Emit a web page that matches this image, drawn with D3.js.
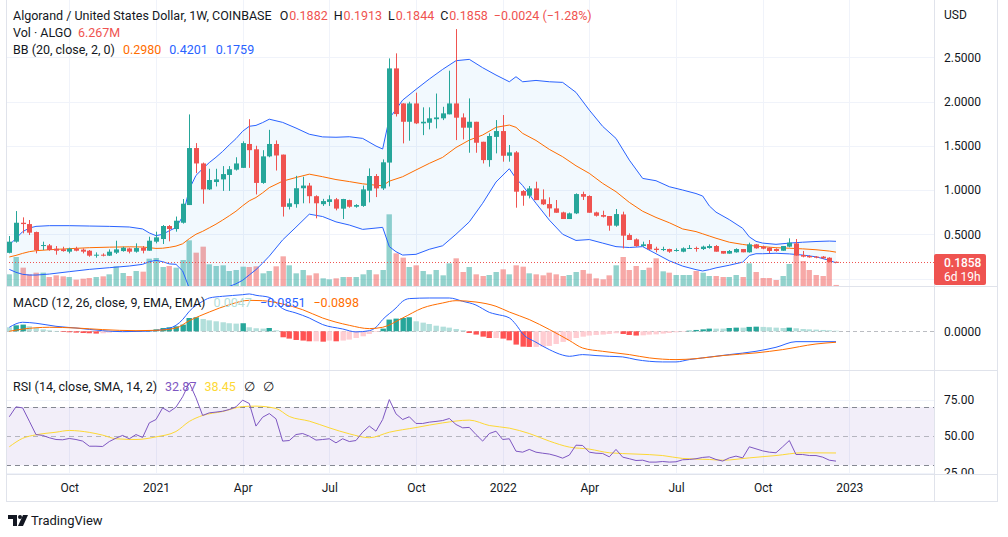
<!DOCTYPE html>
<html><head><meta charset="utf-8">
<script src="https://cdn.jsdelivr.net/npm/d3@7/dist/d3.min.js"></script>
<style>
html,body{margin:0;padding:0;background:#fff;}
svg{display:block;}
text{font-family:Roboto,"Noto Sans",sans-serif;}
</style></head>
<body>
<svg id="chart" width="1008" height="537"></svg>
<script>
// ---------------- DATA ----------------
const firstWeek = "2020-08-03";
const opens = [0.290,0.416,0.630,0.615,0.525,0.367,0.374,0.337,0.330,0.303,
0.337,0.326,0.314,0.258,0.269,0.258,0.292,0.310,0.340,0.303,
0.348,0.314,0.416,0.446,0.593,0.559,0.630,0.830,1.474,1.300,
1.007,1.090,1.120,1.170,1.230,1.250,1.520,1.460,1.080,1.380,
1.520,1.400,0.810,0.840,1.020,1.050,0.930,0.840,0.865,0.895,
0.789,0.886,0.811,0.820,0.992,1.158,1.018,1.310,2.374,1.978,
1.771,1.978,1.753,1.760,1.800,1.810,1.855,1.978,1.820,1.704,
1.771,1.545,1.338,1.600,1.666,1.387,1.425,0.988,0.936,1.018,
0.894,0.841,0.792,0.747,0.672,0.736,0.954,0.932,0.747,0.717,
0.706,0.597,0.724,0.491,0.442,0.367,0.389,0.337,0.322,0.333,
0.314,0.303,0.337,0.345,0.333,0.345,0.367,0.311,0.281,0.296,
0.333,0.296,0.386,0.360,0.348,0.333,0.314,0.360,0.397,0.265,
0.254,0.247,0.247,0.235,0.1882];
const highs = [0.480,0.762,0.691,0.661,0.530,0.416,0.390,0.367,0.359,0.348,
0.359,0.340,0.322,0.295,0.284,0.329,0.427,0.359,0.348,0.397,
0.367,0.472,0.529,0.604,0.604,0.700,0.898,1.854,1.530,1.310,
1.240,1.240,1.270,1.270,1.370,1.550,1.800,1.500,1.450,1.680,
1.560,1.400,0.904,1.160,1.150,1.080,0.940,0.900,0.940,0.910,
0.900,0.890,0.840,1.050,1.244,1.180,1.346,2.487,2.544,1.980,
1.997,2.100,1.934,1.934,2.090,1.940,2.348,2.818,1.866,2.035,
1.771,1.545,1.640,1.790,1.847,1.508,1.440,0.999,1.045,1.094,
1.007,0.917,0.887,0.755,0.745,0.962,0.981,0.940,0.755,0.766,
0.706,0.785,0.755,0.510,0.453,0.416,0.435,0.359,0.359,0.337,
0.341,0.352,0.378,0.360,0.371,0.386,0.378,0.311,0.322,0.341,
0.333,0.405,0.390,0.371,0.352,0.341,0.367,0.454,0.446,0.311,
0.262,0.254,0.254,0.240,0.1913];
const lows = [0.284,0.405,0.510,0.491,0.284,0.322,0.314,0.269,0.303,0.284,
0.307,0.284,0.246,0.235,0.250,0.254,0.277,0.303,0.284,0.292,
0.284,0.314,0.397,0.390,0.420,0.529,0.620,0.830,1.190,0.845,
1.000,1.040,0.990,0.990,1.220,1.250,1.250,0.950,1.070,1.370,
1.220,0.700,0.780,0.800,0.850,0.850,0.680,0.820,0.820,0.770,
0.672,0.800,0.800,0.810,0.860,0.920,1.000,1.040,1.830,1.527,
1.557,1.745,1.620,1.685,1.696,1.790,1.855,1.564,1.572,1.421,
1.421,1.300,1.263,1.414,1.320,1.320,0.800,0.822,0.905,0.886,
0.830,0.698,0.743,0.672,0.672,0.728,0.887,0.743,0.700,0.690,
0.540,0.585,0.340,0.435,0.359,0.359,0.322,0.295,0.310,0.290,
0.303,0.296,0.333,0.303,0.322,0.337,0.303,0.281,0.281,0.292,
0.296,0.292,0.337,0.330,0.284,0.303,0.314,0.352,0.258,0.239,
0.235,0.228,0.220,0.183,0.1844];
const closes = [0.416,0.630,0.615,0.518,0.322,0.378,0.322,0.314,0.310,0.337,
0.314,0.303,0.258,0.269,0.258,0.303,0.329,0.348,0.303,0.344,
0.314,0.427,0.465,0.593,0.559,0.653,0.845,1.474,1.300,1.007,
1.113,1.120,1.180,1.235,1.300,1.530,1.450,1.080,1.380,1.520,
1.390,0.810,0.850,1.020,1.050,0.930,0.850,0.875,0.895,0.790,
0.898,0.811,0.830,1.007,1.158,1.018,1.313,2.374,1.858,1.771,
1.978,1.753,1.771,1.810,1.820,1.866,1.978,1.817,1.704,1.771,
1.534,1.338,1.610,1.666,1.387,1.425,0.981,0.936,1.018,0.886,
0.838,0.792,0.743,0.672,0.736,0.954,0.924,0.743,0.709,0.698,
0.597,0.728,0.484,0.435,0.367,0.386,0.329,0.322,0.333,0.303,
0.322,0.341,0.345,0.337,0.360,0.367,0.303,0.281,0.311,0.333,
0.296,0.386,0.341,0.337,0.311,0.311,0.367,0.405,0.258,0.247,
0.239,0.235,0.228,0.188,0.1858];
// volume in millions of ALGO
const volumes = [70,174,110,70,80,80,54,64,58,54,
38,44,48,54,58,70,118,78,60,90,
86,164,168,114,120,110,156,274,200,236,
130,120,124,90,96,116,114,118,76,90,
118,178,124,76,96,64,76,46,40,46,
54,54,54,70,96,70,96,430,196,170,
114,124,90,70,96,64,136,166,84,114,
70,60,66,84,100,70,124,116,76,70,
64,80,70,60,66,84,96,74,46,40,
64,124,174,96,120,96,110,166,88,80,
66,66,66,90,80,60,60,54,54,66,
54,136,84,48,48,36,60,132,184,150,
96,66,60,150,6.267];

// Bollinger Bands (20, close, 2) sampled at week numbers (1-based)
const bbWeek = [1,2,3,4,5,7,10,13,16,19,21,22,23,24,25,26,27,28,29,30,31,32,33,34,35,36,37,38,39,40,42,44,46,48,50,52,54,56,57,58,59,60,62,64,66,68,70,72,74,76,77,78,80,82,84,86,88,90,92,94,96,98,100,102,104,105,106,107,109,111,112,113,114,116,118,120,122,124,125];
const bbUpper = [0.378,0.453,0.529,0.57,0.589,0.597,0.597,0.593,0.589,0.582,
0.56,0.515,0.484,0.499,0.54,0.575,0.70,1.01,1.165,1.24,
1.31,1.37,1.436,1.51,1.58,1.664,1.72,1.73,1.762,1.80,
1.764,1.70,1.63,1.60,1.596,1.602,1.583,1.497,1.463,1.81,
1.91,2.016,2.137,2.254,2.363,2.461,2.476,2.382,2.299,2.223,
2.28,2.223,2.238,2.223,2.216,2.103,1.903,1.719,1.583,1.338,
1.131,1.105,1.037,1.00,0.96,0.932,0.82,0.75,0.665,0.567,
0.47,0.42,0.40,0.386,0.40,0.41,0.418,0.423,0.4201];
const bbBasis = [0.243,0.261,0.284,0.303,0.314,0.325,0.337,0.348,0.354,0.358,
0.356,0.348,0.34,0.342,0.352,0.366,0.392,0.45,0.50,0.533,
0.573,0.614,0.66,0.709,0.76,0.822,0.878,0.915,0.968,1.027,
1.10,1.141,1.179,1.15,1.118,1.095,1.07,1.054,1.048,1.10,
1.125,1.15,1.226,1.301,1.369,1.48,1.564,1.621,1.708,1.734,
1.708,1.64,1.56,1.459,1.376,1.274,1.188,1.075,0.981,0.86,
0.76,0.69,0.63,0.56,0.53,0.505,0.48,0.455,0.41,0.385,
0.375,0.365,0.36,0.348,0.342,0.335,0.325,0.31,0.298];
const bbLower = [0.103,0.07,0.047,0.039,0.039,0.05,0.077,0.103,0.122,0.141,
0.16,0.19,0.205,0.19,0.165,0.16,0.085,-0.11,-0.165,-0.175,
-0.165,-0.145,-0.116,-0.09,-0.06,-0.02,0.04,0.10,0.174,0.253,
0.436,0.58,0.727,0.70,0.64,0.604,0.555,0.57,0.578,0.36,
0.303,0.265,0.273,0.33,0.37,0.50,0.64,0.85,1.09,1.24,
1.13,1.05,0.85,0.66,0.50,0.43,0.44,0.40,0.36,0.35,
0.36,0.28,0.2,0.14,0.10,0.085,0.10,0.12,0.15,0.185,
0.26,0.28,0.28,0.285,0.278,0.265,0.245,0.205,0.1759];

// MACD (12, 26, 9)
const macdHist = [0.033,0.049,0.055,0.041,0.027,0.016,0.008,0.003,-0.005,-0.008,
-0.011,-0.014,-0.016,-0.019,-0.016,-0.011,-0.005,-0.003,-0.001,0.003,
0.003,0.008,0.016,0.027,0.033,0.041,0.055,0.109,0.115,0.101,
0.090,0.082,0.074,0.066,0.063,0.066,0.033,0.025,0.022,0.027,
0.008,-0.049,-0.060,-0.071,-0.076,-0.082,-0.082,-0.085,-0.076,-0.082,
-0.076,-0.068,-0.055,-0.041,-0.022,-0.005,0.022,0.096,0.104,0.109,
0.115,0.082,0.071,0.060,0.046,0.038,0.030,0.019,0.008,-0.014,
-0.027,-0.044,-0.055,-0.055,-0.060,-0.074,-0.109,-0.126,-0.128,-0.128,
-0.126,-0.120,-0.104,-0.087,-0.074,-0.055,-0.044,-0.035,-0.030,-0.027,
-0.022,-0.016,-0.022,-0.030,-0.035,-0.033,-0.027,-0.025,-0.019,-0.014,
-0.008,-0.003,0.005,0.011,0.016,0.022,0.022,0.022,0.027,0.030,
0.030,0.036,0.038,0.036,0.033,0.030,0.027,0.030,0.025,0.019,
0.016,0.014,0.011,0.008,0.0047];
const macdWeek = [1,3,5,8,11,15,18,21,24,26,27,28,30,31,33,36,37,38,40,42,44,46,48,51,53,55,56,57,59,60,61,64,67,69,71,72,73,74,76,77,78,80,82,84,85,87,89,91,93,95,97,99,101,103,105,109,113,116,119,122,125];
const macdLine = [0.033,0.074,0.066,0.041,0.027,0.005,-0.003,0.0,0.014,0.049,0.096,0.164,0.246,0.273,0.287,0.300,0.306,0.295,0.278,0.186,0.150,0.109,0.055,0.019,-0.005,0.005,0.033,0.096,0.191,0.246,0.268,0.273,0.273,0.246,0.215,0.185,0.155,0.14,0.11,0.055,-0.02,-0.09,-0.15,-0.195,-0.205,-0.191,-0.199,-0.205,-0.210,-0.232,-0.246,-0.251,-0.251,-0.232,-0.218,-0.191,-0.164,-0.131,-0.085,-0.085,-0.0851];
const signalWeek = [1,3,7,11,15,20,23,26,28,31,34,37,39,42,45,48,52,55,57,60,63,66,68,71,74,76,79,82,85,87,90,94,97,101,104,108,113,117,122,125];
const signalLine = [0.0,0.018,0.033,0.027,0.014,0.005,0.008,0.027,0.087,0.158,0.218,0.254,0.251,0.224,0.177,0.109,0.049,0.022,0.033,0.109,0.191,0.232,0.251,0.240,0.205,0.158,0.096,0.015,-0.075,-0.137,-0.164,-0.191,-0.218,-0.232,-0.224,-0.199,-0.177,-0.150,-0.104,-0.0898];

// RSI (14) and its SMA (14)
const rsi = [63.3,70.1,69.4,60.3,51.1,50.5,48.9,47.7,47.5,48.4,
47.7,46.6,43.1,43.1,42.9,46.3,48.6,50.5,48.2,51.1,
49.1,59.1,61.4,69.4,66.7,69.9,77.0,86.6,76.3,64.2,
66.0,66.5,67.1,68.3,70.1,74.7,72.4,56.9,63.0,65.5,
61.9,46.6,47.0,51.1,51.8,50.0,47.3,47.7,48.2,45.4,
48.2,46.3,47.0,52.7,56.9,53.4,61.4,75.1,65.3,61.4,
63.3,58.7,58.7,59.6,60.1,60.7,62.1,58.0,55.7,56.0,
51.1,46.6,51.8,53.4,47.7,48.2,39.7,39.0,40.9,39.0,
38.3,37.7,36.5,34.9,37.0,43.8,43.6,39.0,38.3,38.1,
35.8,40.9,35.6,34.5,33.3,33.5,32.2,32.2,32.6,32.2,
32.4,33.8,34.0,34.5,35.4,35.8,34.0,32.9,35.1,36.3,
35.1,42.7,41.3,39.9,39.0,38.6,42.7,47.0,37.4,37.4,
36.7,36.7,35.6,33.5,32.87];
const rsiMaWeek = [1,3,5,8,10,13,15,17,20,23,26,28,30,33,36,38,41,43,46,49,52,55,58,62,66,70,73,76,79,82,85,88,91,95,99,102,106,108,112,116,120,125];
const rsiMa = [42.7,48.5,50.9,52.7,53.9,52.6,50.7,48.2,47.7,49.5,53.2,60.1,64.2,66.9,70.3,70.6,69.0,63.5,60.3,55.7,51.6,48.9,52.7,55.9,59.1,61.0,57.3,55.5,51.8,46.6,42.5,41.1,38.6,37.7,36.7,34.7,34.0,33.5,35.1,36.7,38.6,38.45];

const priceTicks = [0.5,1.0,1.5,2.0,2.5];
const macdTicks = [0];
const rsiTicks = [75,50,25];
const timeTicks = ["2020-10-05","2021-01-04","2021-04-05","2021-07-05","2021-10-04","2022-01-03","2022-04-04","2022-07-04","2022-10-03","2023-01-02"];
const timeLabels = ["Oct","2021","Apr","Jul","Oct","2022","Apr","Jul","Oct","2023"];

// ---------------- LAYOUT ----------------
const L = 6, R = 934, AX = 997;
const P = {top:0, bot:286}, M = {top:287, bot:370}, S = {top:371, bot:474}, T = {top:475, bot:501};
const UP = "#26a69a", DN = "#ef5350", TXT = "#131722", BORDER = "#e0e3eb", GRID = "#f0f3fa";

const svg = d3.select("#chart");
const parse = d3.utcParse("%Y-%m-%d");
const start = parse(firstWeek);
const dates = closes.map((_, i) => d3.utcMonday.offset(start, i));
const n = closes.length;
const x = d3.scaleUtc().domain([dates[0], dates[n - 1]]).range([9.3, 836]);
const xw = w => x(dates[w - 1]);
const cx = i => Math.round(x(dates[i]));

const yP = d3.scaleLinear().domain([0, 2.5]).range([278.5, 57.25]);
const yV = d3.scaleLinear().domain([0, 600]).range([286, 186]);
const yM = d3.scaleLinear().domain([-0.25, 0.3]).range([331.3 + 0.25 * 122, 331.3 - 0.3 * 122]);
const yR = d3.scaleLinear().domain([30, 70]).range([465.3, 407]);

const defs = svg.append("defs");
[["clipP", P], ["clipM", M], ["clipS", S]].forEach(([id, p]) => {
  defs.append("clipPath").attr("id", id).append("rect")
    .attr("x", L + 1).attr("y", p.top).attr("width", R - L - 1).attr("height", p.bot - p.top);
});
defs.append("clipPath").attr("id", "clipAx").append("rect")
  .attr("x", R).attr("y", S.top).attr("width", AX - R).attr("height", S.bot - S.top);

const tDates = timeTicks.map(parse);

// vertical grid
[P, M, S].forEach(p => {
  svg.append("g").selectAll("line").data(tDates).join("line")
    .attr("x1", d => Math.round(x(d)) + 0.5).attr("x2", d => Math.round(x(d)) + 0.5)
    .attr("y1", p.top).attr("y2", p.bot).attr("stroke", GRID);
});
// horizontal grid
svg.append("g").selectAll("line").data([0].concat(priceTicks)).join("line")
  .attr("x1", L).attr("x2", R).attr("y1", d => Math.round(yP(d)) + 0.5).attr("y2", d => Math.round(yP(d)) + 0.5)
  .attr("stroke", GRID);
svg.append("g").selectAll("line").data([75, 25]).join("line")
  .attr("x1", L).attr("x2", R).attr("y1", d => Math.round(yR(d)) + 0.5).attr("y2", d => Math.round(yR(d)) + 0.5)
  .attr("stroke", GRID);

// ---------------- MAIN PANE ----------------
const gP = svg.append("g").attr("clip-path", "url(#clipP)");
const idx = d3.range(n);
gP.append("g").selectAll("rect").data(idx).join("rect")
  .attr("x", i => cx(i) - 2.5).attr("width", 5.4)
  .attr("y", i => yV(volumes[i])).attr("height", i => Math.max(1, yV(0) - yV(volumes[i])))
  .attr("fill", i => closes[i] >= opens[i] ? "rgba(38,166,154,0.5)" : "rgba(239,83,80,0.5)");

const bbData = bbWeek.map((w, k) => ({w, u: bbUpper[k], b: bbBasis[k], l: bbLower[k]}));
gP.append("path").datum(bbData)
  .attr("d", d3.area().x(d => xw(d.w)).y0(d => yP(d.l)).y1(d => yP(d.u)))
  .attr("fill", "rgba(33,150,243,0.06)");
gP.append("path").datum(bbData).attr("d", d3.line().x(d => xw(d.w)).y(d => yP(d.u)))
  .attr("fill", "none").attr("stroke", "#2962ff").attr("stroke-width", 1);
gP.append("path").datum(bbData).attr("d", d3.line().x(d => xw(d.w)).y(d => yP(d.l)))
  .attr("fill", "none").attr("stroke", "#2962ff").attr("stroke-width", 1);
gP.append("path").datum(bbData).attr("d", d3.line().x(d => xw(d.w)).y(d => yP(d.b)))
  .attr("fill", "none").attr("stroke", "#ff6d00").attr("stroke-width", 1);

const col = i => closes[i] >= opens[i] ? UP : DN;
gP.append("g").selectAll("line").data(idx).join("line")
  .attr("x1", i => cx(i) + 0.5).attr("x2", i => cx(i) + 0.5)
  .attr("y1", i => yP(highs[i])).attr("y2", i => yP(lows[i]))
  .attr("stroke", col).attr("stroke-width", 1);
gP.append("g").selectAll("rect").data(idx).join("rect")
  .attr("x", i => cx(i) - 2).attr("width", 5)
  .attr("y", i => yP(Math.max(opens[i], closes[i])))
  .attr("height", i => Math.max(1, Math.abs(yP(opens[i]) - yP(closes[i]))))
  .attr("fill", col);

// last price dotted line
const lastY = Math.round(yP(closes[n - 1])) + 0.5;
svg.append("line").attr("x1", L).attr("x2", R).attr("y1", lastY).attr("y2", lastY)
  .attr("stroke", DN).attr("stroke-width", 1).attr("stroke-dasharray", "1,2");

// ---------------- MACD PANE ----------------
const gM = svg.append("g").attr("clip-path", "url(#clipM)");
gM.append("line").attr("x1", L).attr("x2", R).attr("y1", Math.round(yM(0)) + 0.5).attr("y2", Math.round(yM(0)) + 0.5)
  .attr("stroke", "#787b86").attr("stroke-opacity", 0.5).attr("stroke-dasharray", "4,3");
const histCol = i => {
  const h = macdHist[i], p = i > 0 ? macdHist[i - 1] : h;
  if (h >= 0) return h > p ? "#26a69a" : "#b2dfdb";
  return h < p ? "#ff5252" : "#ffcdd2";
};
gM.append("g").selectAll("rect").data(idx).join("rect")
  .attr("x", i => cx(i) - 2.5).attr("width", 5.4)
  .attr("y", i => Math.min(yM(0), yM(macdHist[i])))
  .attr("height", i => Math.max(0.5, Math.abs(yM(macdHist[i]) - yM(0))))
  .attr("fill", i => histCol(i));
gM.append("path").datum(macdWeek.map((w, k) => [w, macdLine[k]]))
  .attr("d", d3.line().x(d => xw(d[0])).y(d => yM(d[1])).curve(d3.curveMonotoneX))
  .attr("fill", "none").attr("stroke", "#2962ff").attr("stroke-width", 1);
gM.append("path").datum(signalWeek.map((w, k) => [w, signalLine[k]]))
  .attr("d", d3.line().x(d => xw(d[0])).y(d => yM(d[1])).curve(d3.curveMonotoneX))
  .attr("fill", "none").attr("stroke", "#ff6d00").attr("stroke-width", 1);

// ---------------- RSI PANE ----------------
const gS = svg.append("g").attr("clip-path", "url(#clipS)");
gS.append("rect").attr("x", L).attr("width", R - L).attr("y", yR(70)).attr("height", yR(30) - yR(70))
  .attr("fill", "rgba(126,87,194,0.1)");
[[70, 0.9], [50, 0.5], [30, 0.9]].forEach(([v, o]) => {
  gS.append("line").attr("x1", L).attr("x2", R).attr("y1", Math.round(yR(v)) + 0.5).attr("y2", Math.round(yR(v)) + 0.5)
    .attr("stroke", "#787b86").attr("stroke-opacity", o).attr("stroke-dasharray", "5,4");
});
gS.append("path").datum(rsiMaWeek.map((w, k) => [w, rsiMa[k]]))
  .attr("d", d3.line().x(d => xw(d[0])).y(d => yR(d[1])).curve(d3.curveMonotoneX))
  .attr("fill", "none").attr("stroke", "#fdd835").attr("stroke-width", 1);
gS.append("path").datum(rsi.map((v, i) => [i + 1, v]))
  .attr("d", d3.line().x(d => xw(d[0])).y(d => yR(d[1])))
  .attr("fill", "none").attr("stroke", "#7e57c2").attr("stroke-width", 1);

// ---------------- BORDERS ----------------
const bl = (x1, y1, x2, y2) => svg.append("line").attr("x1", x1).attr("y1", y1).attr("x2", x2).attr("y2", y2)
  .attr("stroke", BORDER).attr("stroke-width", 1);
bl(L + 0.5, 0, L + 0.5, T.bot);
bl(R + 0.5, 0, R + 0.5, T.bot);
bl(AX + 0.5, 0, AX + 0.5, T.bot);
bl(L, P.bot + 0.5, AX, P.bot + 0.5);
bl(L, M.bot + 0.5, AX, M.bot + 0.5);
bl(L, S.bot + 0.5, AX, S.bot + 0.5);
bl(L, T.bot + 0.5, AX + 1, T.bot + 0.5);

// ---------------- AXES ----------------
const styleAxis = g => {
  g.select(".domain").remove();
  g.selectAll("text").attr("fill", TXT).style("font-size", "12px").style("font-family", "Roboto, 'Noto Sans', sans-serif");
};
svg.append("g").attr("transform", `translate(${R},0)`)
  .call(d3.axisRight(yP).tickValues(priceTicks).tickFormat(d3.format(".4f")).tickSize(0).tickPadding(10)).call(styleAxis);
svg.append("g").attr("transform", `translate(${R},0)`)
  .call(d3.axisRight(yM).tickValues(macdTicks).tickFormat(d3.format(".4f")).tickSize(0).tickPadding(10)).call(styleAxis);
svg.append("g").attr("clip-path", "url(#clipAx)")
  .append("g").attr("transform", `translate(${R},0)`)
  .call(d3.axisRight(yR).tickValues(rsiTicks).tickFormat(d3.format(".2f")).tickSize(0).tickPadding(10)).call(styleAxis);
svg.append("g").attr("transform", `translate(0,${T.top})`)
  .call(d3.axisBottom(x).tickValues(tDates).tickFormat((d, i) => timeLabels[i]).tickSize(0).tickPadding(8)).call(styleAxis);

svg.append("text").attr("x", 944).attr("y", 19).attr("fill", TXT).style("font-size", "12px").text("USD");

// last price label
svg.append("rect").attr("x", R).attr("y", 254).attr("width", 52).attr("height", 31).attr("rx", 2).attr("fill", DN);
svg.append("text").attr("x", 944).attr("y", 267).attr("fill", "#fff").style("font-size", "12px").style("font-weight", 500).text("0.1858");
svg.append("text").attr("x", 944).attr("y", 281).attr("fill", "#fff").style("font-size", "12px").text("6d 19h");

// ---------------- LEGENDS ----------------
const legend = (y, parts) => {
  const t = svg.append("text").attr("x", 13).attr("y", y).style("font-size", "12.5px");
  parts.forEach(([s, c, dx]) => t.append("tspan").attr("fill", c).attr("dx", dx || 0).text(s));
};
legend(20, [["Algorand / United States Dollar, 1W, COINBASE", TXT], ["O", TXT, 8], ["0.1882", DN, 1],
  ["H", TXT, 6], ["0.1913", DN, 1], ["L", TXT, 6], ["0.1844", DN, 1], ["C", TXT, 6], ["0.1858", DN, 1],
  ["\u22120.0024 (\u22121.28%)", DN, 6]]);
legend(37, [["Vol \u00b7 ALGO", TXT], ["6.267M", DN, 6]]);
legend(54, [["BB (20, close, 2, 0)", TXT], ["0.2980", "#ff6d00", 8], ["0.4201", "#2962ff", 8], ["0.1759", "#2962ff", 8]]);
legend(307, [["MACD (12, 26, close, 9, EMA, EMA)", TXT], ["0.0047", "#b2dfdb", 8], ["\u22120.0851", "#2962ff", 8], ["\u22120.0898", "#ff6d00", 8]]);
legend(391, [["RSI (14, close, SMA, 14, 2)", TXT], ["32.87", "#7e57c2", 8], ["38.45", "#fdd835", 8], ["\u2205", TXT, 8], ["\u2205", TXT, 8]]);

// TradingView logo
const logo = svg.append("g").attr("fill", TXT);
logo.append("path").attr("d", "M8 515h9v11h-4v-7h-5z");
logo.append("circle").attr("cx", 20).attr("cy", 517).attr("r", 2);
logo.append("path").attr("d", "M23 515h5l-5 11h-5z");
svg.append("text").attr("x", 31).attr("y", 525).attr("fill", TXT).style("font-size", "13px").text("TradingView");
</script>
</body></html>
